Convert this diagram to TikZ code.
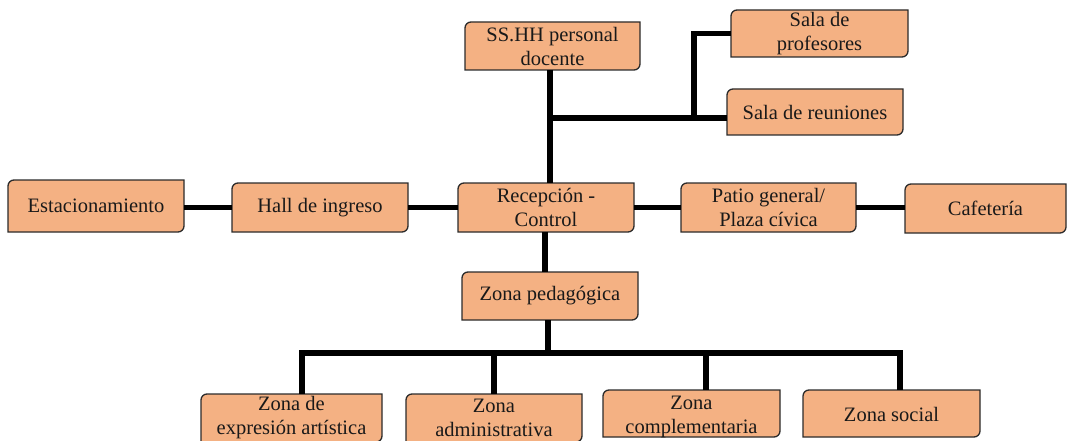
\documentclass[tikz,border=0pt]{standalone}
\usepackage{fontspec}
\setmainfont{Liberation Serif}
\newfontfamily\tnr{Liberation Serif}
\definecolor{boxfill}{HTML}{F4B183}
\definecolor{boxedge}{HTML}{2B2B2B}
\tikzset{
  bxline/.style={fill=boxfill, draw=boxedge, line width=1.3pt},
  txt/.style={inner sep=0pt, align=center, text=black!90,
    font=\tnr\fontsize{20.5}{24}\selectfont},
  conn/.style={line width=5.5pt, draw=black, line join=miter, line cap=butt},
}
% #1 text shift, #2 name, #3 x1, #4 y1(top, px down), #5 x2, #6 y2 (bottom), #7 text
\newcommand\bx[7][0]{%
  \filldraw[bxline] (#3,-#6) -- (#3,-#4-6) arc[start angle=180,end angle=90,radius=6]
    -- (#5,-#4) -- (#5,-#6+6) arc[start angle=0,end angle=-90,radius=6] -- cycle;
  \node[txt, minimum width={(#5-#3)*1pt}, minimum height={(#6-#4)*1pt}]
    (#2) at ({(#3+#5)/2},{-(#4+#6)/2}) {};
  \node[txt] at ([yshift=-#1pt]#2.center) {#7};
}
\begin{document}
\begin{tikzpicture}[x=1pt,y=1pt]
\useasboundingbox (0,0) rectangle (1073,-441);
% boxes
\bx{est}{8}{180}{184}{232}{Estacionamiento}
\bx{hall}{232}{183}{408}{232}{Hall de ingreso}
\bx{rec}{458}{183}{634}{232}{Recepción -\\Control}
\bx{pat}{681}{183}{856}{232}{Patio general/\\Plaza cívica}
\bx{caf}{905}{184}{1066}{233}{Cafetería}
\bx{ssh}{465}{22}{640}{70}{SS.HH personal\\docente}
\bx{prof}{731}{10}{908}{57}{Sala de\\profesores}
\bx{reu}{727}{89}{903}{135}{Sala de reuniones}
\bx{ped}{462}{272}{638}{320}{Zona pedagógica}
\bx{z1}{201}{394}{382}{442}{Zona de\\expresión artística}
\bx{z2}{406}{394}{582}{442}{Zona\\administrativa}
\bx[3]{z3}{603}{390}{780}{437}{Zona\\complementaria}
\bx[1]{z4}{803}{390}{980}{437}{Zona social}
% connectors
\coordinate (h1) at (0,-207.5);
\draw[conn] (h1 -| est.east) -- (h1 -| hall.west);
\draw[conn] (h1 -| hall.east) -- (h1 -| rec.west);
\draw[conn] (h1 -| rec.east) -- (h1 -| pat.west);
\draw[conn] (h1 -| pat.east) -- (h1 -| caf.west);
\coordinate (s1) at (550,-70);
\coordinate (j1) at (550,-118);
\coordinate (j2) at (694,-118);
\draw[conn] (s1) -- (s1 |- rec.north);
\draw[conn] (j1) -- (j1 -| reu.west);
\draw[conn] (j2) |- (prof.west);
\coordinate (r1) at (545,-232);
\draw[conn] (r1) -- (r1 |- ped.north);
\coordinate (p1) at (548,-320);
\coordinate (bus) at (548,-353);
\draw[conn] (p1) -- (bus);
\coordinate (b1) at (302,-353);
\coordinate (b2) at (494,-353);
\coordinate (b3) at (706,-353);
\coordinate (b4) at (900,-353);
\draw[conn] (b1 |- z1.north) -- (b1) -- (b4) -- (b4 |- z4.north);
\draw[conn] (b2) -- (b2 |- z2.north);
\draw[conn] (b3) -- (b3 |- z3.north);
\end{tikzpicture}
\end{document}
